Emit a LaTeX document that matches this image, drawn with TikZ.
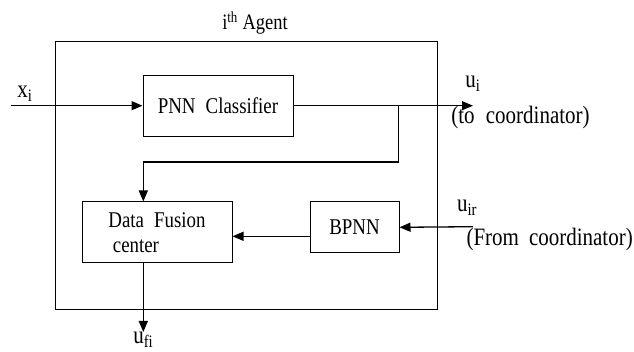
\documentclass[tikz,border=0pt]{standalone}
\usepackage{fontspec}
\setmainfont{Liberation Serif}[FakeStretch=0.84]
\usetikzlibrary{arrows.meta}
\tikzset{
  blk/.style={draw, line width=1pt, rectangle, inner sep=0pt, anchor=center, font=\fontsize{22.5}{25}\selectfont},
  arr/.style={line width=1.3pt, -{Triangle[length=11pt,width=9pt]}},
  wire/.style={line width=1.3pt},
  lbl/.style={inner sep=0pt, anchor=center, font=\fontsize{25}{27}\selectfont},
  ttl/.style={inner sep=0pt, anchor=center, font=\fontsize{22}{25}\selectfont},
}
\begin{document}
\begin{tikzpicture}[x=1pt,y=-1pt]
\useasboundingbox (0,0) rectangle (634,352);
% outer agent box
\node[blk, minimum width=381.3pt, minimum height=267.6pt] (agent) at (246.35,175.5) {};
\node[ttl] (title) at (255,23) {i\textsuperscript{th} Agent};
% blocks
\node[blk, minimum width=150pt, minimum height=61pt] (pnn) at (218,105.7) {PNN\hspace{0.45em}Classifier};
\node[blk, minimum width=150pt, minimum height=61pt, align=left] (df) at (157,232.5) {Data\hspace{0.45em}Fusion\\\hspace{0.2em}center};
\node[blk, minimum width=89pt, minimum height=51pt] (bpnn) at (354.5,227.3) {BPNN};
% coordinates
\coordinate (xin) at (11,105.7);
\coordinate (uout) at (473,105.7);
\coordinate (br) at (398.7,105.7);
\coordinate (turn) at (143.3,162);
\coordinate (uin) at (473,226.7);
\coordinate (ufi) at (143.3,332);
% connectors
\draw[arr] (xin) -- (pnn.west);
\draw[arr] (pnn.east) -- (uout);
\draw[wire] (br) |- (turn);
\draw[arr] (turn) -- (turn |- df.north);
\draw[arr] ([yshift=-9pt]bpnn.west) -- ([yshift=-9pt]bpnn.west -| df.east);
\draw[arr] (uin) -- (bpnn.east);
\draw[arr] (ufi |- df.south) -- (ufi);
% labels
\node[lbl] (xl) at (25,94) {x\textsubscript{i}};
\node[lbl] (ul) at (473,84) {u\textsubscript{i}};
\node[lbl] (tc) at (520.5,117) {(to\hspace{0.45em}coordinator)};
\node[lbl] (uirl) at (467,208) {u\textsubscript{ir}};
\node[lbl, anchor=east] (fc) at (633,239) {(From\hspace{0.4em}coordinator)};
\node[lbl] (ufil) at (143.3,340) {u\textsubscript{fi}};
\end{tikzpicture}
\end{document}
